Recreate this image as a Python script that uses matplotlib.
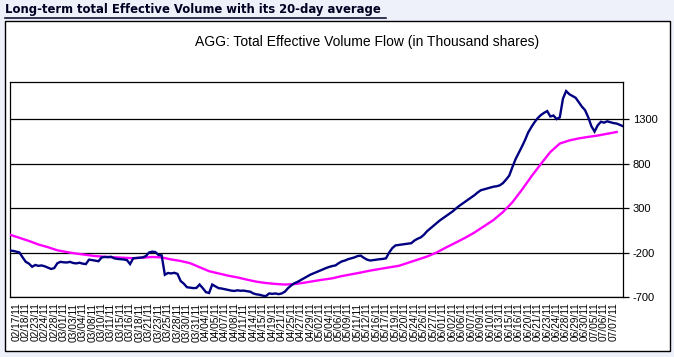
import numpy as np
import matplotlib
matplotlib.use("Agg")
import matplotlib.pyplot as plt
from matplotlib.patches import Rectangle
from matplotlib.lines import Line2D

# ---- data ----
date_labels = ["02/17/11", "02/18/11", "02/23/11", "02/24/11", "02/28/11", "03/01/11", "03/03/11", "03/04/11",
               "03/08/11", "03/10/11", "03/11/11", "03/15/11", "03/16/11", "03/18/11", "03/21/11", "03/23/11",
               "03/25/11", "03/28/11", "03/30/11", "03/31/11", "04/04/11", "04/05/11", "04/07/11", "04/08/11",
               "04/11/11", "04/14/11", "04/15/11", "04/19/11", "04/21/11", "04/25/11", "04/27/11", "04/29/11",
               "05/02/11", "05/04/11", "05/06/11", "05/09/11", "05/11/11", "05/12/11", "05/16/11", "05/17/11",
               "05/19/11", "05/20/11", "05/24/11", "05/26/11", "05/27/11", "06/01/11", "06/02/11", "06/06/11",
               "06/07/11", "06/09/11", "06/10/11", "06/13/11", "06/15/11", "06/16/11", "06/20/11", "06/21/11",
               "06/23/11", "06/24/11", "06/28/11", "06/29/11", "06/30/11", "07/05/11", "07/06/11", "07/07/11"]

effective_volume = [
    -178, -182, -190, -200, -255, -305, -325, -360, -340, -350,
    -345, -355, -370, -385, -375, -320, -305, -310, -312, -305,
    -318, -322, -315, -325, -330, -280, -285, -292, -298, -255,
    -250, -252, -248, -265, -272, -275, -278, -285, -330, -265,
    -262, -258, -255, -240, -200, -190, -195, -228, -232, -450,
    -430, -435, -428, -440, -520, -550, -590, -595, -600, -598,
    -560, -600, -645, -655, -560, -580, -600, -605, -612, -620,
    -628, -632, -625, -630, -628, -635, -640, -660, -670, -675,
    -685, -690, -660, -665, -660, -668, -660, -640, -600, -570,
    -545, -530, -510, -490, -470, -450, -435, -420, -405, -390,
    -375, -362, -352, -345, -320, -300, -290, -275, -265, -255,
    -240, -235, -260, -280, -290, -285, -280, -275, -272, -265,
    -200, -150, -120, -115, -110, -105, -100, -95, -65, -45,
    -30, 0, 40, 70, 100, 130, 160, 185, 210, 235,
    260, 290, 320, 345, 370, 395, 420, 445, 475, 500,
    510, 520, 530, 540, 545, 555, 580, 620, 665, 760,
    850, 920, 990, 1065, 1150, 1210, 1265, 1310, 1345, 1370,
    1390, 1330, 1340, 1300, 1320, 1530, 1615, 1580, 1560, 1540,
    1490, 1440, 1400, 1320, 1220, 1160, 1230, 1270, 1260, 1275,
    1265, 1255, 1250, 1235, 1220]

avg_20day = [
    0, -35, -70, -110, -140, -175, -195, -212, -226, -240,
    -248, -254, -259, -264, -258, -250, -255, -278, -295, -320,
    -365, -410, -435, -460, -480, -505, -528, -543, -553, -560,
    -555, -540, -522, -505, -490, -465, -445, -425, -403, -385,
    -367, -350, -315, -280, -245, -200, -143, -90, -35, 25,
    95, 165, 255, 365, 505, 655, 795, 930, 1025, 1060,
    1083, 1100, 1115, 1135, 1155]

y_ticks = [-700, -200, 300, 800, 1300]

# ---- figure ----
W, H = 674, 357
fig = plt.figure(figsize=(W / 100, H / 100), dpi=100)
fig.patch.set_facecolor("#EEF0FA")

def fx(px):
    return px / W

def fy(py):
    return 1 - py / H

# outer white box
fig.patches.append(Rectangle((fx(5), fy(351)), fx(670) - fx(5), fy(21) - fy(351),
                             transform=fig.transFigure, facecolor="white",
                             edgecolor="black", linewidth=1, zorder=-10))

# header (bold, underlined)
fig.text(fx(5), fy(10), "Long-term total Effective Volume with its 20-day average",
         fontfamily="DejaVu Sans", fontweight="bold", fontsize=8.4,
         color="#000022", ha="left", va="center")
fig.add_artist(Line2D([fx(5), fx(386)], [fy(17.5), fy(17.5)], transform=fig.transFigure,
                      color="#000022", linewidth=1.1))

# chart title
fig.text(fx(367), fy(42), "AGG: Total Effective Volume Flow (in Thousand shares)",
         fontfamily="Liberation Sans", fontsize=10, color="black", ha="center", va="center")

ax = fig.add_axes([fx(10), fy(297), fx(623) - fx(10), fy(82) - fy(297)])
ax.set_facecolor("white")

n = len(effective_volume)
x_blue = np.arange(n)
x_avg = np.arange(len(avg_20day)) * 3

ax.plot(x_avg, avg_20day, color="#FF00FF", linewidth=1.7, solid_joinstyle="round", zorder=3)
ax.plot(x_blue, effective_volume, color="#000080", linewidth=1.7, solid_joinstyle="miter", zorder=4)

ax.set_xlim(0, n - 1)
ax.set_ylim(-700, 1717)

for v in y_ticks:
    ax.axhline(v, color="black", linewidth=0.9, zorder=1)

ax.yaxis.tick_right()
ax.set_yticks(y_ticks)
ax.set_yticklabels([str(v) for v in y_ticks], fontfamily="Liberation Sans", fontsize=8)
ax.tick_params(axis="y", direction="out", length=4, width=0.9, pad=3, colors="black")

tick_pos = np.arange(len(date_labels)) * 3 + 2
ax.set_xticks(tick_pos)
ax.set_xticklabels(date_labels, rotation=90, fontfamily="Liberation Sans", fontsize=7.3)
ax.tick_params(axis="x", length=0, pad=4)

for s in ax.spines.values():
    s.set_color("black")
    s.set_linewidth(0.9)

fig.savefig("out.png", dpi=100, facecolor=fig.get_facecolor())
